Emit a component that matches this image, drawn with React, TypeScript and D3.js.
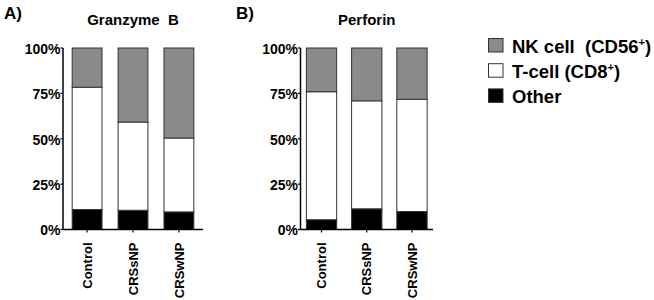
import React from "react";
import * as d3 from "d3";

const categories = ["Control", "CRSsNP", "CRSwNP"];
const seriesKeys = ["Other", "T-cell", "NK cell"];

// Granzyme B (% of positive cells)
const granzymeOther = [11.0, 10.6, 9.7];
const granzymeTcell = [67.4, 48.6, 40.7];
const granzymeNK = [21.6, 40.8, 49.6];

// Perforin (% of positive cells)
const perforinOther = [5.4, 11.4, 9.9];
const perforinTcell = [70.5, 59.5, 61.9];
const perforinNK = [24.1, 29.1, 28.2];

const yTicks = [0, 25, 50, 75, 100];
const yTickLabels = ["0%", "25%", "50%", "75%", "100%"];

const fills: Record<string, string> = { Other: "#000000", "T-cell": "#ffffff", "NK cell": "#8a8a8a" };
const FONT = "'Liberation Sans', Arial, Helvetica, sans-serif";

function buildRows(other: number[], tcell: number[], nk: number[]) {
  return categories.map((c, i) => ({ cat: c, Other: other[i], "T-cell": tcell[i], "NK cell": nk[i] }));
}

type PanelProps = {
  letter: string;
  letterX: number;
  title: string;
  rows: any[];
  x0: number;
  x1: number;
  padIn: number;
  padOut: number;
};

function Panel({ letter, letterX, title, rows, x0, x1, padIn, padOut }: PanelProps) {
  const top = 48;
  const bottom = 229.5;
  const y = d3.scaleLinear().domain([0, 100]).range([bottom, top]);
  const x = d3.scaleBand().domain(categories).range([x0, x1]).paddingInner(padIn).paddingOuter(padOut);
  const stacked = d3.stack().keys(seriesKeys)(rows as any);
  const bw = x.bandwidth();
  const first = x(categories[0])!;
  const last = x(categories[categories.length - 1])! + bw;
  const center = (first + last) / 2;
  return (
    <g>
      <text x={letterX} y={19} fontSize={17} fontWeight="bold" fontFamily={FONT}>{letter}</text>
      <text x={center} y={25} fontSize={15} fontWeight="bold" fontFamily={FONT} textAnchor="middle" style={{ whiteSpace: "pre" }}>{title}</text>
      {stacked.map((layer: any) =>
        layer.map((d: any, i: number) => (
          <rect
            key={layer.key + i}
            x={x(categories[i])}
            y={y(d[1])}
            width={bw}
            height={y(d[0]) - y(d[1])}
            fill={fills[layer.key]}
            stroke="#333"
            strokeWidth={1}
          />
        ))
      )}
      {/* y axis */}
      <line x1={x0} x2={x0} y1={top} y2={bottom} stroke="#000" strokeWidth={1.5} />
      {yTicks.map((t, i) => (
        <g key={t}>
          <line x1={x0 - 2.5} x2={x0} y1={y(t)} y2={y(t)} stroke="#000" strokeWidth={1.2} />
          <text x={x0 - 2.5} y={y(t)} dy="0.42em" textAnchor="end" fontSize={14} fontWeight="bold" fontFamily={FONT}>{yTickLabels[i]}</text>
        </g>
      ))}
      {/* x axis */}
      <line x1={x0} x2={x1} y1={bottom} y2={bottom} stroke="#000" strokeWidth={1.5} />
      {categories.map((c) => {
        const cx = x(c)! + bw / 2;
        return (
          <g key={c}>
            <line x1={cx} x2={cx} y1={bottom} y2={bottom + 3} stroke="#000" strokeWidth={1.2} />
            <text transform={`translate(${cx},${bottom + 13}) rotate(-90)`} dy="0.36em" textAnchor="end" fontSize={13} fontWeight="bold" fontFamily={FONT}>{c}</text>
          </g>
        );
      })}
    </g>
  );
}

const legendLabels = [
  { key: "NK cell", main: "NK cell\u00a0\u00a0(CD56", sup: "+", tail: ")" },
  { key: "T-cell", main: "T-cell (CD8", sup: "+", tail: ")" },
  { key: "Other", main: "Other", sup: "", tail: "" },
];

export default function App() {
  return (
    <svg width={654} height={300} style={{ position: "absolute", left: 0, top: 0, background: "#fff" }}>
      <rect width={654} height={300} fill="#fff" />
      <Panel letter="A)" letterX={4} title={"Granzyme\u00a0\u00a0B"} rows={buildRows(granzymeOther, granzymeTcell, granzymeNK)} x0={63} x1={203} padIn={0.35} padOut={0.2} />
      <Panel letter="B)" letterX={236} title="Perforin" rows={buildRows(perforinOther, perforinTcell, perforinNK)} x0={300.5} x1={433} padIn={0.33} padOut={0.13} />
      {legendLabels.map((l, i) => {
        const baseY = 52.5 + i * 25.2;
        return (
          <g key={l.key}>
            <rect x={488.5} y={baseY - 14} width={14.5} height={13.5} fill={fills[l.key]} stroke="#333" strokeWidth={1} />
            <text x={512} y={baseY} fontSize={18.5} fontWeight="bold" fontFamily={FONT}>
              {l.main}
              {l.sup ? <tspan fontSize={11} dy={-7}>{l.sup}</tspan> : null}
              {l.tail ? <tspan dy={l.sup ? 7 : 0}>{l.tail}</tspan> : null}
            </text>
          </g>
        );
      })}
    </svg>
  );
}
